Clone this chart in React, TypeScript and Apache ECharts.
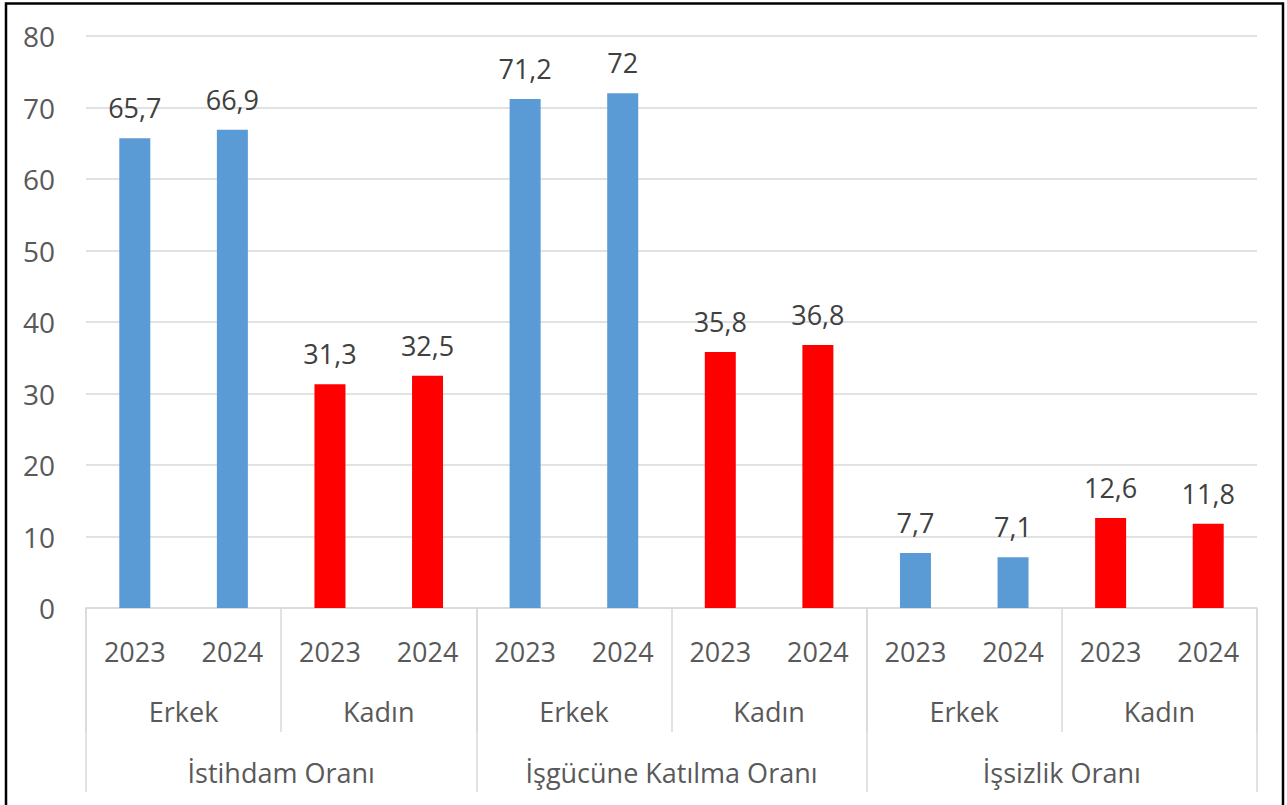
import React, { useEffect, useRef } from "react";
import * as echarts from "echarts";

const years = ["2023", "2024", "2023", "2024", "2023", "2024", "2023", "2024", "2023", "2024", "2023", "2024"];
const genders = ["Erkek", "Kadın", "Erkek", "Kadın", "Erkek", "Kadın"];
const groups = ["İstihdam Oranı", "İşgücüne Katılma Oranı", "İşsizlik Oranı"];
const values = [65.7, 66.9, 31.3, 32.5, 71.2, 72, 35.8, 36.8, 7.7, 7.1, 12.6, 11.8];
const genderOfBar = ["Erkek", "Erkek", "Kadın", "Kadın", "Erkek", "Erkek", "Kadın", "Kadın", "Erkek", "Erkek", "Kadın", "Kadın"];
const yTicks = [0, 10, 20, 30, 40, 50, 60, 70, 80];

const BLUE = "#5B9BD5";
const RED = "#FF0000";
const FONT = "Open Sans";

export default function App() {
  const ref = useRef<HTMLDivElement>(null);
  useEffect(() => {
    document.body.style.margin = "0";
    const chart = echarts.init(ref.current!, null, { renderer: "svg" });
    const grey = "#d9d9d9";
    const labelBase = { fontFamily: FONT, fontSize: 27, color: "#595959", lineHeight: 27 };
    chart.setOption({
      animation: false,
      backgroundColor: "#ffffff",
      grid: { left: 86, right: 30, top: 36, bottom: 197, containLabel: false },
      xAxis: [
        {
          type: "category",
          data: years,
          position: "bottom",
          axisLine: { show: true, lineStyle: { color: grey, width: 1.5 } },
          axisTick: { show: false },
          axisLabel: { ...labelBase, margin: 30, interval: 0 },
        },
        {
          type: "category",
          data: genders,
          position: "bottom",
          axisLine: { show: false },
          axisTick: { show: true, length: 124, lineStyle: { color: grey, width: 1.5 } },
          axisLabel: { ...labelBase, margin: 90, interval: 0 },
        },
        {
          type: "category",
          data: groups,
          position: "bottom",
          axisLine: { show: false },
          axisTick: { show: true, length: 184, lineStyle: { color: grey, width: 1.5 } },
          axisLabel: { ...labelBase, margin: 151, interval: 0 },
        },
      ],
      yAxis: {
        type: "value",
        min: yTicks[0],
        max: yTicks[yTicks.length - 1],
        interval: 10,
        axisLine: { show: false },
        axisTick: { show: false },
        axisLabel: { ...labelBase, fontSize: 28, margin: 31 },
        splitLine: { lineStyle: { color: grey, width: 1.5 } },
      },
      series: [
        {
          type: "bar",
          xAxisIndex: 0,
          barWidth: 31,
          data: values.map((v, i) => ({
            value: v,
            itemStyle: { color: genderOfBar[i] === "Erkek" ? BLUE : RED },
          })),
          label: {
            show: true,
            position: "top",
            distance: 17,
            fontFamily: FONT,
            fontSize: 27,
            color: "#404040",
            formatter: (p: any) => String(p.value).replace(".", ","),
          },
        },
      ],
      graphic: [
        {
          type: "rect",
          shape: { x: 6, y: 3.5, width: 1277, height: 820 },
          style: { fill: "none", stroke: "#000000", lineWidth: 2.5 },
          silent: true,
          z: 100,
        },
      ],
    });
    return () => chart.dispose();
  }, []);
  return <div ref={ref} style={{ width: 1287, height: 805 }} />;
}
